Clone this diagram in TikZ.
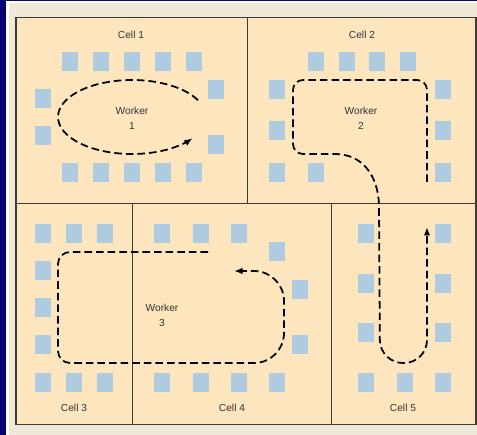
\documentclass[tikz,border=0pt]{standalone}
\usepackage{fontspec}
\setmainfont{Liberation Sans}
\usepackage{xcolor}
\usepackage{tikz}
\usetikzlibrary{arrows.meta, positioning}
\definecolor{slidenavy}{RGB}{6,4,110}
\definecolor{slidecream}{RGB}{239,233,217}
\definecolor{floorpeach}{RGB}{253,230,190}
\definecolor{machineblue}{RGB}{174,203,224}
\definecolor{wallgray}{RGB}{60,58,50}

\begin{document}
\begin{tikzpicture}[
    x=0.02cm, y=-0.02cm,
    every node/.style={font=\fontsize{5.8}{8.5}\selectfont, text=black!80},
    celltext/.style={align=center},
    machine/.style={fill=machineblue},
    wall/.style={draw=wallgray, line width=0.5pt},
    flow/.style={dash pattern=on 4.3pt off 2.3pt, line width=1pt, -{Latex[length=1.7mm,width=1.3mm]}}
]

% slide background
\fill[slidenavy] (0,0) rectangle (477,435);
\fill[white] (6,1.3) rectangle (477,435);
\fill[slidecream] (9,3) rectangle (477,435);
\useasboundingbox (0,0) rectangle (477,435);

% shop floor and cell walls
\fill[floorpeach] (16,17.5) rectangle (476,424.5);
\draw[wall] (247,17.5) -- (247,203) (16,203) -- (476,203)
            (132,203) -- (132,424.5) (331,203) -- (331,424.5);
\draw[wallgray, line width=1.1pt] (16,17.5) rectangle (476,424.5);

% machines
\foreach \x in {62,93,124,155,186} {
    \fill[machine] (\x,52) rectangle ++(16,19);
    \fill[machine] (\x,163) rectangle ++(16,19);
}
\foreach \x/\y in {35/89, 35/126, 208/80, 208/135,
                   308/52, 339/52, 369/52, 400/52, 308/163,
                   269/80, 269/121, 269/163, 435/80, 435/121, 435/163} {
    \fill[machine] (\x,\y) rectangle ++(16,19);
}
\foreach \x/\y in {35/224, 66/224, 97/224, 35/261, 35/298, 35/335,
                   35/373, 66/373, 97/373,
                   154/224, 193/224, 231/224, 269/242, 292/280, 292/335,
                   154/373, 193/373, 231/373, 269/373,
                   358/224, 358/274, 358/323, 358/373, 397/373,
                   435/224, 435/274, 435/323, 435/373} {
    \fill[machine] (\x,\y) rectangle ++(16,19);
}

% labels
\node (cell1) at (131,35) {Cell 1};
\node (cell2) at (362,35) {Cell 2};
\node (cell3) at (74,408) {Cell 3};
\node (cell4) at (232,408) {Cell 4};
\node (cell5) at (403,408) {Cell 5};
\node[celltext] (worker1) at (132,118) {Worker\\1};
\node[celltext] (worker2) at (361,118) {Worker\\2};
\node[celltext] (worker3) at (162,315) {Worker\\3};

% worker routes
\draw[flow] plot[domain=-27:-325, samples=60, smooth] ({132+74*cos(\x)},{117+37*sin(\x)});
\draw[flow] (427,182) [rounded corners=2mm] -- (427,80) -- (293,80) -- (293,154) -- (325,154)
    [sharp corners] .. controls (362,154) and (378,175) .. (379,205)
    [rounded corners=4.6mm] -- (380,363) -- (427,363) -- (427,227);
\draw[flow] (208,252) [rounded corners=2.4mm] -- (58,252) -- (58,363)
    [rounded corners=6mm] -- (284,363) -- (284,271) -- (234,271);

\end{tikzpicture}
\end{document}
